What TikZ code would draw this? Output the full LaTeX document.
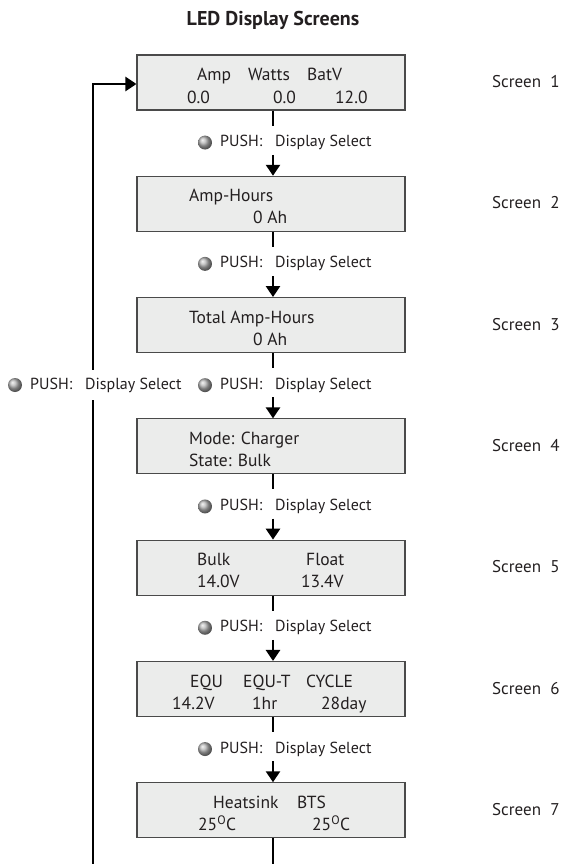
\documentclass[tikz,border=0pt]{standalone}
\usepackage{fontspec}
\setmainfont{PT Sans}
\usetikzlibrary{arrows.meta,shadings}
\definecolor{ink}{HTML}{231F20}
\definecolor{boxfill}{HTML}{EBECEB}
\definecolor{boxline}{HTML}{4A4A4A}
\begin{document}
\begin{tikzpicture}[x=1pt,y=-1pt,
  screenbox/.style={draw=boxline,line width=1.1pt,fill=boxfill,minimum width=268pt,minimum height=55pt,inner sep=0pt},
  txt/.style={anchor=base west,inner sep=0pt,text=ink,font=\fontsize{17.5}{20}\selectfont},
  scrlabel/.style={anchor=base west,inner sep=0pt,text=ink,font=\fontsize{17}{20}\selectfont},
  pushlabel/.style={anchor=west,inner sep=0pt,text=ink,font=\fontsize{16}{19}\selectfont},
  conn/.style={line width=2.6pt,draw=black},
  arr/.style={line width=2.6pt,draw=black,-{Triangle[width=14pt,length=11pt]}},
  bullet/.style={circle,minimum size=14pt,inner sep=0pt,shading=ball,ball color=gray!60}
]
\useasboundingbox (0,0) rectangle (562,864);
\node[font=\bfseries\fontsize{20}{24}\selectfont,text=ink] (title) at (273,20) {LED Display Screens};

% boxes
\foreach \i/\c in {1/82.5,2/203.8,3/325.1,4/446.4,5/567.7,6/689,7/810.3}{
  \node[screenbox] (b\i) at (271,\c) {};
  \node[scrlabel] (s\i) at (492,\c+5) {Screen\hspace{0.55em}\i};
}

% box 1
\node[txt] (t1a) at (197,81) {Amp};
\node[txt] (t1b) at (248,81) {Watts};
\node[txt] (t1c) at (307,81) {BatV};
\node[txt] (t1d) at (187,103) {0.0};
\node[txt] (t1e) at (273,103) {0.0};
\node[txt] (t1f) at (335,103) {12.0};
% box 2
\node[txt] (t2a) at (189,201.8) {Amp-Hours};
\node[txt] (t2b) at (253,223.8) {0 Ah};
% box 3
\node[txt] (t3a) at (189,323.1) {Total Amp-Hours};
\node[txt] (t3b) at (253,345.1) {0 Ah};
% box 4
\node[txt] (t4a) at (189,444.4) {Mode: Charger};
\node[txt] (t4b) at (189,466.4) {State: Bulk};
% box 5
\node[txt] (t5a) at (197,565.7) {Bulk};
\node[txt] (t5b) at (306,565.7) {Float};
\node[txt] (t5c) at (197,587.7) {14.0V};
\node[txt] (t5d) at (301,587.7) {13.4V};
% box 6
\node[txt] (t6a) at (190,687) {EQU};
\node[txt] (t6b) at (243,687) {EQU-T};
\node[txt] (t6c) at (306,687) {CYCLE};
\node[txt] (t6d) at (172,709) {14.2V};
\node[txt] (t6e) at (252,709) {1hr};
\node[txt] (t6f) at (321,709) {28day};
% box 7
\node[txt] (t7a) at (213,808.3) {Heatsink};
\node[txt] (t7b) at (297,808.3) {BTS};
\node[txt] (t7c) at (198,830.3) {25\textsuperscript{O}C};
\node[txt] (t7d) at (312,830.3) {25\textsuperscript{O}C};

% connectors between boxes
\foreach \i/\j in {1/2,2/3,3/4,4/5,5/6,6/7}{
  \draw[conn] ([xshift=2pt]b\i.south) -- ++(0,15);
  \node[pushlabel] (p\i) at ([xshift=-51pt,yshift=-32pt]b\i.south) {PUSH:\hspace{0.8em}Display Select};
  \node[bullet] (pb\i) at ([xshift=-15pt]p\i.west) {};
  \draw[arr] ([xshift=2pt,yshift=21pt]b\j.north) -- ([xshift=2pt]b\j.north);
}

% loop back
\coordinate (botc) at (273,864);
\coordinate (botl) at (93,864);
\coordinate (topl) at (93,84);
\draw[conn] ([xshift=2pt]b7.south) -- (botc);
\draw[line width=2.6pt,-{Triangle[width=14pt,length=11pt]}] (botl) -- (topl) -- (topl -| b1.west);
\node[pushlabel,fill=white,inner ysep=8pt,inner xsep=0pt] (pl) at (30,385) {PUSH:\hspace{0.8em}Display Select};
\node[bullet] (plb) at ([xshift=-15pt]pl.west) {};
\end{tikzpicture}
\end{document}
